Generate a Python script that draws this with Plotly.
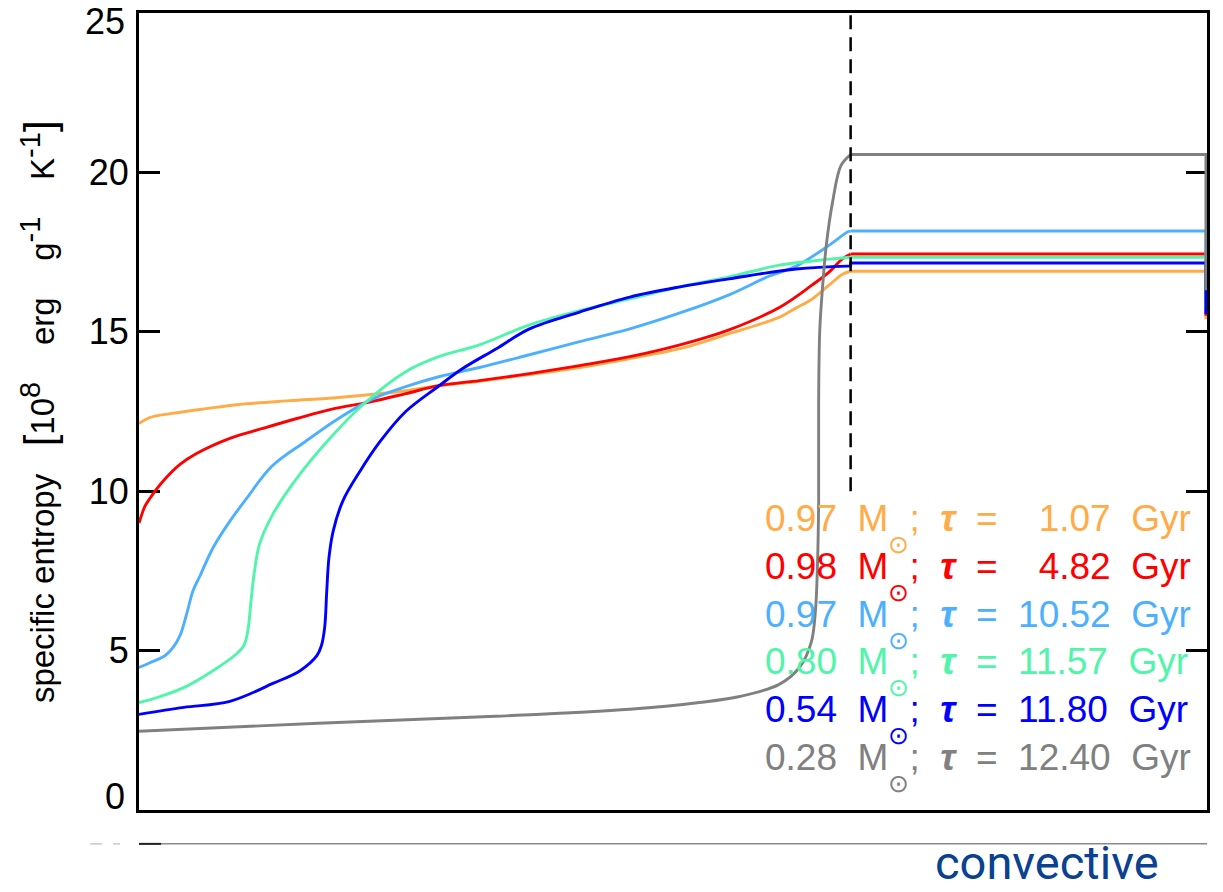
import plotly.graph_objects as go

# ---------------- data (x: normalised radial coordinate, y: specific entropy) -------------
orange_x = [0.0, 0.010, 0.031, 0.063, 0.094, 0.141, 0.187, 0.250, 0.281, 0.319, 0.366, 0.413,
            0.460, 0.507, 0.553, 0.601, 0.616, 0.631, 0.647, 0.659, 0.667, 0.99, 1.0, 1.0]
orange_y = [12.12, 12.31, 12.44, 12.59, 12.72, 12.84, 12.94, 13.15, 13.31, 13.45, 13.66, 13.88,
            14.16, 14.47, 14.94, 15.47, 15.75, 16.03, 16.47, 16.80, 16.90, 16.90, 16.90, 15.40]

red_x = [0.0, 0.0056, 0.0103, 0.0225, 0.0384, 0.0543, 0.0852, 0.116, 0.148, 0.179, 0.218, 0.250,
         0.281, 0.319, 0.366, 0.413, 0.460, 0.507, 0.553, 0.601, 0.631, 0.647, 0.659, 0.667,
         0.99, 1.0, 1.0]
red_y = [9.00, 9.53, 9.78, 10.31, 10.84, 11.19, 11.66, 11.97, 12.28, 12.56, 12.81, 13.06,
         13.31, 13.47, 13.69, 13.94, 14.22, 14.59, 15.06, 15.78, 16.47, 16.88, 17.28, 17.44,
         17.44, 17.44, 15.50]

lblue_x = [0.0, 0.0103, 0.0243, 0.0318, 0.0384, 0.045, 0.0506, 0.0571, 0.0693, 0.0852, 0.101,
           0.1245, 0.156, 0.187, 0.218, 0.250, 0.281, 0.319, 0.366, 0.413, 0.460, 0.507, 0.553,
           0.591, 0.616, 0.647, 0.664, 0.667, 0.99, 1.0, 1.0]
lblue_y = [4.47, 4.62, 4.84, 5.09, 5.47, 6.19, 6.88, 7.34, 8.22, 9.06, 9.78,
           10.78, 11.56, 12.28, 12.88, 13.28, 13.59, 13.88, 14.28, 14.69, 15.09, 15.59, 16.16,
           16.75, 17.06, 17.72, 18.13, 18.16, 18.16, 18.16, 15.70]

green_x = [0.0, 0.0197, 0.042, 0.0693, 0.0918, 0.0983, 0.102, 0.105, 0.108, 0.113, 0.1255,
           0.148, 0.179, 0.210, 0.250, 0.281, 0.319, 0.366, 0.413, 0.460, 0.507, 0.553, 0.600,
           0.647, 0.667, 0.99, 1.0, 1.0]
green_y = [3.37, 3.56, 3.84, 4.37, 4.91, 5.16, 5.62, 6.56, 7.44, 8.34, 9.28,
           10.41, 11.66, 12.72, 13.75, 14.22, 14.59, 15.22, 15.66, 16.03, 16.41, 16.72, 17.09,
           17.28, 17.34, 17.34, 17.34, 15.70]

blue_x = [0.0, 0.042, 0.0852, 0.1255, 0.151, 0.1667, 0.171, 0.174, 0.176, 0.178, 0.182, 0.191,
          0.207, 0.226, 0.250, 0.281, 0.303, 0.335, 0.366, 0.413, 0.460, 0.507, 0.553, 0.616,
          0.664, 0.667, 0.667, 0.99, 1.0, 1.0]
blue_y = [3.00, 3.22, 3.41, 3.97, 4.37, 4.84, 5.16, 5.72, 6.88, 7.90, 8.75, 9.69,
          10.62, 11.56, 12.50, 13.30, 13.84, 14.47, 15.09, 15.62, 16.09, 16.41, 16.66, 16.97,
          17.06, 17.06, 17.16, 17.16, 17.16, 15.56]

gray_x = [0.0, 0.168, 0.334, 0.460, 0.525, 0.563, 0.600, 0.619, 0.630, 0.634, 0.636, 0.637,
          0.637, 0.638, 0.640, 0.644, 0.650, 0.658, 0.667, 0.99, 1.0, 1.0]
gray_y = [2.47, 2.72, 2.94, 3.16, 3.37, 3.56, 3.94, 4.47, 5.25, 6.25, 7.80, 9.69,
          12.80, 15.00, 16.10, 17.66, 19.06, 20.22, 20.56, 20.56, 20.56, 16.30]

series_colors = ["#FFAC48", "#FF0000", "#4DB0FF", "#50F5AA", "#0000FF", "#808080"]
series_x = [orange_x, red_x, lblue_x, green_x, blue_x, gray_x]
series_y = [orange_y, red_y, lblue_y, green_y, blue_y, gray_y]

masses = ["0.97", "0.98", "0.97", "0.80", "0.54", "0.28"]
ages = [" 1.07", " 4.82", "10.52", "11.57", "11.80", "12.40"]

convective_boundary = 0.667
boundary_y = [10, 25]
y_ticks = [0, 5, 10, 15, 20, 25]

FONT = "Liberation Sans, Arial, sans-serif"
NB = "\u00a0"

fig = go.Figure()
for xs, ys, c in zip(series_x, series_y, series_colors):
    k = next(i for i, v in enumerate(xs) if v >= convective_boundary - 1e-9)
    # radiative interior: smooth curve
    fig.add_trace(go.Scatter(x=xs[:k + 1], y=ys[:k + 1], mode="lines",
                             line=dict(color=c, width=2.9, shape="spline", smoothing=1.0),
                             showlegend=False, hoverinfo="skip"))
    # convective envelope: flat segments
    fig.add_trace(go.Scatter(x=xs[k:], y=ys[k:], mode="lines",
                             line=dict(color=c, width=2.9),
                             showlegend=False, hoverinfo="skip"))

# dashed boundary line
fig.add_shape(type="line", xref="x", yref="y",
              x0=convective_boundary, x1=convective_boundary,
              y0=boundary_y[0], y1=boundary_y[1],
              line=dict(color="black", width=2.5, dash="14px,8px"))

# legend-like labels
sun = "<sub><span style='font-size:25px;baseline-shift:-0.55em'>⊙</span></sub>"
for i, (m, a, c) in enumerate(zip(masses, ages, series_colors)):
    age_txt = a.replace(" ", NB * 2)
    txt = (f"{m}{NB*2}M{sun};{NB*2}<b><i>τ</i></b>{NB*2}={NB*2}{age_txt}{NB*2}Gyr")
    fig.add_annotation(xref="paper", yref="paper", x=0.5843, y=0.354 - i * 0.06,
                       xanchor="left", yanchor="middle", text=txt, showarrow=False,
                       font=dict(family=FONT, size=37, color=c))

# end tick labels (drawn inside the frame like the original)
fig.add_annotation(xref="paper", yref="y", x=-0.0112, y=y_ticks[-1], xanchor="right",
                   yanchor="top", yshift=14, showarrow=False, text=str(y_ticks[-1]),
                   font=dict(family=FONT, size=36, color="black"))
fig.add_annotation(xref="paper", yref="y", x=-0.0112, y=y_ticks[0], xanchor="right",
                   yanchor="bottom", yshift=-9, showarrow=False, text=str(y_ticks[0]),
                   font=dict(family=FONT, size=36, color="black"))

# y-axis title
G = NB * 4
sup = "<sup><span style='font-size:29px'>{}</span></sup>"
br = "<span style='font-size:42px'>{}</span>"
fig.add_annotation(xref="paper", yref="paper", x=-0.094, y=0.5, textangle=-90,
                   xanchor="center", yanchor="middle", showarrow=False,
                   text=(f"specific entropy{NB*3}{br.format('[')}10{sup.format('8')}{G}erg{G}"
                         f"g{sup.format('-1')}{G}K{sup.format('-1')}{br.format(']')}"),
                   font=dict(family=FONT, size=33, color="black"))

# fragment of the panel below
fig.add_shape(type="line", xref="paper", yref="paper", x0=0, x1=1, y0=-0.0425, y1=-0.0425,
              line=dict(color="#8a8a8a", width=1.5))
fig.add_shape(type="line", xref="paper", yref="paper", x0=0, x1=0.0206, y0=-0.0425, y1=-0.0425,
              line=dict(color="#222222", width=2))
for x0, x1 in [(-0.0456, -0.0346), (-0.0243, -0.0178)]:
    fig.add_shape(type="line", xref="paper", yref="paper", x0=x0, x1=x1,
                  y0=-0.0425, y1=-0.0425, line=dict(color="#c8c8c8", width=1.5))
fig.add_annotation(xref="paper", yref="paper", x=0.8502, y=-0.066, xanchor="center",
                   yanchor="middle", showarrow=False, text="convective",
                   font=dict(family="Roboto, sans-serif", size=47, color="#0A4190"))

fig.update_layout(
    width=1223, height=892,
    margin=dict(l=139, r=16, t=10, b=82),
    paper_bgcolor="white", plot_bgcolor="white",
    showlegend=False,
    xaxis=dict(range=[0, 1.001], showgrid=False, zeroline=False, showticklabels=False,
               ticks="", showline=True, linecolor="black", linewidth=3, mirror=True,
               layer="below traces"),
    yaxis=dict(range=[0, 25], tickvals=y_ticks,
               ticktext=[""] + [str(v) for v in y_ticks[1:-1]] + [""],
               showgrid=False, zeroline=False,
               ticks="inside", ticklen=21, tickwidth=2.5, tickcolor="black",
               showline=True, linecolor="black", linewidth=3, mirror="ticks",
               tickfont=dict(family=FONT, size=36, color="black"),
               layer="below traces"),
)

fig.write_html("out.html")
